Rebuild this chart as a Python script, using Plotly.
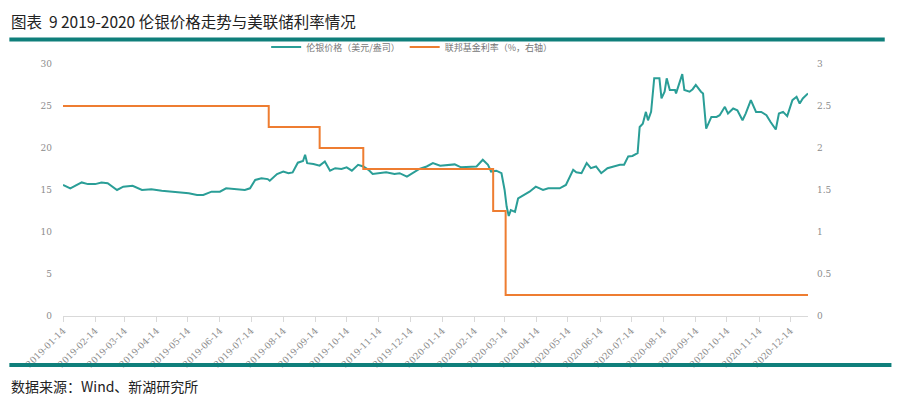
import plotly.graph_objects as go

# London silver price (USD/oz)
silver_dates = [
    "2019-01-14", "2019-01-21", "2019-02-01", "2019-02-07", "2019-02-14", "2019-02-20", "2019-02-26",
    "2019-03-07", "2019-03-13", "2019-03-22", "2019-03-31", "2019-04-09", "2019-04-19", "2019-04-29",
    "2019-05-08", "2019-05-15", "2019-05-23", "2019-05-29", "2019-06-06", "2019-06-14", "2019-06-20",
    "2019-06-30", "2019-07-08", "2019-07-13", "2019-07-18", "2019-07-24", "2019-07-30", "2019-08-01",
    "2019-08-08", "2019-08-14", "2019-08-19", "2019-08-23", "2019-08-28", "2019-09-02", "2019-09-04",
    "2019-09-06", "2019-09-12", "2019-09-18", "2019-09-23", "2019-09-28", "2019-10-03", "2019-10-09",
    "2019-10-14", "2019-10-19", "2019-10-25", "2019-10-30", "2019-11-04", "2019-11-08", "2019-11-15",
    "2019-11-21", "2019-11-29", "2019-12-04", "2019-12-11", "2019-12-17", "2019-12-23", "2019-12-30",
    "2020-01-05", "2020-01-12", "2020-01-18", "2020-01-26", "2020-02-01", "2020-02-09", "2020-02-16",
    "2020-02-22", "2020-02-27", "2020-03-01", "2020-03-06", "2020-03-11", "2020-03-14", "2020-03-16",
    "2020-03-18", "2020-03-20", "2020-03-24", "2020-03-27", "2020-04-01", "2020-04-07", "2020-04-13",
    "2020-04-20", "2020-04-25", "2020-05-06", "2020-05-12", "2020-05-19", "2020-05-22", "2020-05-27",
    "2020-06-01", "2020-06-05", "2020-06-10", "2020-06-15", "2020-06-21", "2020-06-28", "2020-07-03",
    "2020-07-07", "2020-07-11", "2020-07-15", "2020-07-20", "2020-07-22", "2020-07-25", "2020-07-28",
    "2020-07-30", "2020-08-02", "2020-08-05", "2020-08-10", "2020-08-12", "2020-08-15", "2020-08-17",
    "2020-08-20", "2020-08-25", "2020-08-26", "2020-08-29", "2020-09-01", "2020-09-03", "2020-09-08",
    "2020-09-11", "2020-09-14", "2020-09-19", "2020-09-21", "2020-09-24", "2020-09-29", "2020-10-04",
    "2020-10-07", "2020-10-12", "2020-10-15", "2020-10-20", "2020-10-24", "2020-10-29", "2020-11-01",
    "2020-11-06", "2020-11-11", "2020-11-16", "2020-11-21", "2020-11-25", "2020-11-30", "2020-12-03",
    "2020-12-07", "2020-12-11", "2020-12-16", "2020-12-20", "2020-12-23", "2020-12-26", "2020-12-31",
]
silver_price = [
    15.6, 15.2, 15.9, 15.7, 15.7, 15.9, 15.8,
    15.0, 15.4, 15.5, 15.0, 15.1, 14.9, 14.8,
    14.7, 14.6, 14.4, 14.4, 14.8, 14.8, 15.2,
    15.1, 15.0, 15.2, 16.2, 16.4, 16.3, 16.1,
    16.9, 17.2, 17.0, 17.1, 18.25, 18.45, 19.2,
    18.2, 18.1, 17.9, 18.4, 17.3, 17.6, 17.5,
    17.7, 17.3, 18.0, 17.8, 17.4, 16.9, 17.0,
    17.1, 16.9, 17.0, 16.6, 17.0, 17.5, 17.8,
    18.2, 17.9, 18.0, 18.05, 17.7, 17.8, 17.8,
    18.6, 18.0, 17.2, 17.3, 17.0, 15.0, 13.0,
    11.9, 12.6, 12.4, 14.0, 14.4, 14.8, 15.4,
    15.0, 15.2, 15.2, 15.6, 17.4, 17.1, 17.0,
    18.2, 17.6, 17.8, 17.0, 17.6, 17.8, 18.0,
    18.0, 19.0, 19.05, 19.4, 22.5, 22.9, 24.3,
    23.3, 24.3, 28.3, 28.3, 25.9, 26.7, 28.3,
    26.9, 26.9, 26.5, 27.7, 28.8, 26.9, 26.7,
    27.0, 27.5, 26.7, 26.5, 22.3, 23.7, 23.7,
    23.9, 24.9, 24.1, 24.7, 24.5, 23.3, 24.1,
    25.7, 24.3, 24.3, 23.9, 23.1, 22.2, 24.1,
    24.3, 23.8, 25.7, 26.1, 25.3, 25.9, 26.5,
]

# Fed funds rate (%), step changes
rate_dates = ["2019-01-14", "2019-07-31", "2019-09-18", "2019-10-30", "2020-03-03", "2020-03-15", "2020-12-31"]
rate_values = [2.5, 2.25, 2.0, 1.75, 1.25, 0.25, 0.25]

tick_dates = ["2019-%02d-14" % m for m in range(1, 13)] + ["2020-%02d-14" % m for m in range(1, 13)]
left_ticks = [0, 5, 10, 15, 20, 25, 30]
right_ticks = [0, 0.5, 1, 1.5, 2, 2.5, 3]
right_labels = ["0", "0.5", "1", "1.5", "2", "2.5", "3"]

teal = "#2a9e97"
orange = "#ee7d31"
bar = "#0f7f7b"
grey = "#8c8c8c"

fig = go.Figure()
fig.add_trace(go.Scatter(x=silver_dates, y=silver_price, mode="lines",
                         name="伦银价格（美元/盎司）", line=dict(color=teal, width=2)))
fig.add_trace(go.Scatter(x=rate_dates, y=rate_values, mode="lines", yaxis="y2",
                         name="联邦基金利率（%，右轴）", line=dict(color=orange, width=2, shape="hv")))

# page body has an 8px margin, so the margins below are shifted by 8
fig.update_layout(
    width=900, height=403,
    margin=dict(l=55, r=100, t=56, b=95, autoexpand=False),
    paper_bgcolor="white", plot_bgcolor="white",
    font=dict(family="Noto Sans CJK SC", color=grey, size=9),
    showlegend=True,
    legend=dict(orientation="h", x=0.468, xanchor="center", y=1.067, yanchor="middle",
                font=dict(size=9, color="#777"), itemwidth=30, bgcolor="rgba(0,0,0,0)"),
    xaxis=dict(type="date", range=["2019-01-14", "2020-12-31"], tickvals=tick_dates,
               tickformat="%Y-%m-%d", tickangle=-45, showgrid=False, zeroline=False,
               showline=True, linecolor="#d9d9d9", ticks="outside", tickcolor="#d9d9d9",
               ticklen=5, automargin=False,
               tickfont=dict(size=9, color=grey, family="DejaVu Serif")),
    yaxis=dict(range=[0, 30], tickvals=left_ticks, showgrid=False, zeroline=False,
               showline=False, ticks="", ticklabelstandoff=10, automargin=False,
               tickfont=dict(size=9, color=grey, family="DejaVu Serif")),
    yaxis2=dict(range=[0, 3], tickvals=right_ticks, ticktext=right_labels, overlaying="y",
                side="right", showgrid=False, zeroline=False, showline=False, ticks="",
                ticklabelstandoff=8, automargin=False,
                tickfont=dict(size=9, color=grey, family="DejaVu Serif")),
)

# header / footer rules and texts
fig.add_shape(type="line", xref="paper", yref="paper", x0=-0.072, x1=1.103, y0=1.097, y1=1.097,
              line=dict(color=bar, width=4))
fig.add_shape(type="line", xref="paper", yref="paper", x0=-0.072, x1=1.112, y0=-0.194, y1=-0.194,
              line=dict(color=bar, width=4))
fig.add_annotation(text="图表  9 2019-2020 伦银价格走势与美联储利率情况", xref="paper", yref="paper",
                   x=-0.072, y=1.222, xanchor="left", yanchor="top", showarrow=False,
                   font=dict(size=15.5, color="#222", family="Noto Sans CJK SC"))
fig.add_annotation(text="数据来源：Wind、新湖研究所", xref="paper", yref="paper",
                   x=-0.072, y=-0.278, xanchor="left", yanchor="middle", showarrow=False,
                   font=dict(size=14, color="#222", family="Noto Sans CJK SC"))

fig.write_html("out.html")
